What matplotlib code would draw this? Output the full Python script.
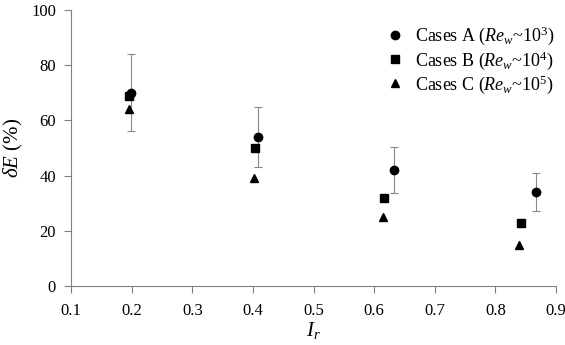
import matplotlib
matplotlib.use("Agg")
import matplotlib.pyplot as plt

plt.rcParams['font.family'] = 'Liberation Serif'
plt.rcParams['mathtext.fontset'] = 'custom'
plt.rcParams['mathtext.rm'] = 'Liberation Serif'
plt.rcParams['mathtext.it'] = 'Liberation Serif:italic'

# Cases A (with error bars)
xa = [0.198, 0.409, 0.632, 0.867]
ya = [70, 54, 42, 34]
ya_low = [56, 43, 33.6, 27.3]
ya_high = [84, 65, 50.5, 40.8]

# Cases B
xb = [0.196, 0.403, 0.616, 0.843]
yb = [69, 50, 32, 23]

# Cases C
xc = [0.196, 0.401, 0.614, 0.839]
yc = [64, 39, 25, 15]

err = [[y - lo for y, lo in zip(ya, ya_low)], [hi - y for y, hi in zip(ya, ya_high)]]

fig = plt.figure(figsize=(5.65, 3.45), dpi=100)
ax = fig.add_axes([0.126, 0.171, 0.858, 0.80])

ax.errorbar(xa, ya, yerr=err, fmt='none', ecolor='#888888', elinewidth=0.8,
            capsize=3, capthick=0.8)
ax.plot(xa, ya, 'o', color='black', ms=6, label=r'Cases A ($Re_w$~10$^3$)')
ax.plot(xb, yb, 's', color='black', ms=5.5, label=r'Cases B ($Re_w$~10$^4$)')
ax.plot(xc, yc, '^', color='black', ms=6, label=r'Cases C ($Re_w$~10$^5$)')

ax.set_xlim(0.1, 0.9)
ax.set_ylim(0, 100)
ax.set_xticks([0.1, 0.2, 0.3, 0.4, 0.5, 0.6, 0.7, 0.8, 0.9])
ax.set_yticks([0, 20, 40, 60, 80, 100])

for s in ['top', 'right']:
    ax.spines[s].set_visible(False)
for s in ['left', 'bottom']:
    ax.spines[s].set_color('#808080')
ax.tick_params(direction='out', color='#808080', labelsize=12, length=5)
ax.tick_params(axis='x', pad=7)
ax.tick_params(axis='y', pad=6)

ax.set_xlabel(r'$I_r$', fontsize=15, labelpad=1)
ax.set_ylabel(r'$\delta E$ (%)', fontsize=15)

ax.legend(loc='upper right', bbox_to_anchor=(1.005, 0.96), frameon=False,
          fontsize=13, handlelength=1.2, handletextpad=0.5,
          labelspacing=0.1, borderpad=0.2, borderaxespad=0)

fig.savefig('out.png', dpi=100)
